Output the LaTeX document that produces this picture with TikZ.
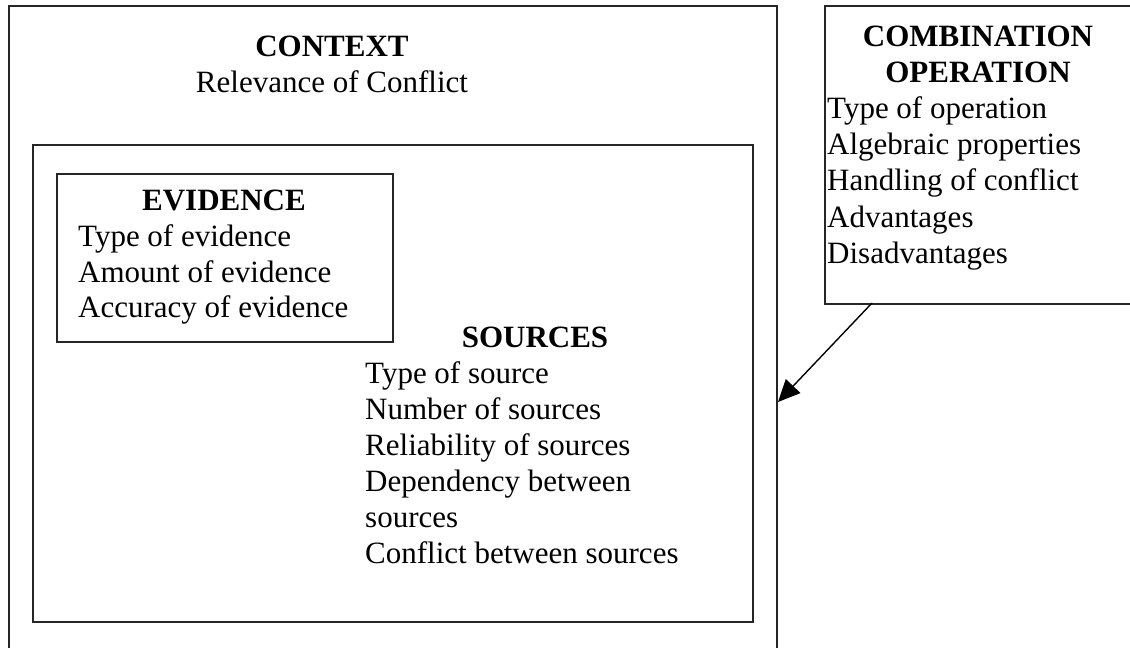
\documentclass[tikz,border=0pt]{standalone}
\usepackage{fontspec}
\setmainfont{Liberation Serif}
\usetikzlibrary{arrows.meta}
\tikzset{
  frame/.style={draw=black!85, line width=2pt, inner sep=0pt, anchor=north west},
  txt/.style={inner sep=0pt, anchor=base west, font=\fontsize{31}{36}\selectfont},
  hd/.style={inner sep=0pt, anchor=base, font=\fontsize{31}{36}\selectfont\bfseries},
  link/.style={draw=black, line width=1.4pt, -{Triangle[length=22pt,width=20pt]}}
}
\begin{document}
\begin{tikzpicture}[x=1pt,y=-1pt]
\useasboundingbox (0,0) rectangle (1130,648);
\begin{scope}
  \clip (0,0) rectangle (1130,648);
  % frames
  \node[frame, minimum width=768pt, minimum height=700pt] (context) at (8,5) {};
  \node[frame, minimum width=720pt, minimum height=477pt] (inner) at (32,144) {};
  \node[frame, minimum width=336pt, minimum height=168pt] (evidence) at (56,173) {};
  \node[frame, minimum width=330pt, minimum height=298pt] (comb) at (824,5) {};
\end{scope}

% context
\node[hd] (ctxhead) at (332,56) {CONTEXT};
\node[inner sep=0pt, anchor=base, font=\fontsize{31}{36}\selectfont] (ctxline) at (332,92) {Relevance of Conflict};

% evidence
\node[hd] (evhead) at (224,210) {EVIDENCE};
\node[txt] (ev1) at (78,246) {Type of evidence};
\node[txt] (ev2) at (78,282) {Amount of evidence};
\node[txt] (ev3) at (78,317) {Accuracy of evidence};

% sources
\node[hd] (srchead) at (535,347) {SOURCES};
\node[txt] (src1) at (365,383) {Type of source};
\node[txt] (src2) at (365,419) {Number of sources};
\node[txt] (src3) at (365,455) {Reliability of sources};
\node[txt] (src4) at (365,491) {Dependency between};
\node[txt] (src5) at (365,527) {sources};
\node[txt] (src6) at (365,563) {Conflict between sources};

% combination operation
\node[hd] (cbhead1) at (978,46) {COMBINATION};
\node[hd] (cbhead2) at (978,82) {OPERATION};
\node[txt] (cb1) at (827,118) {Type of operation};
\node[txt] (cb2) at (827,154) {Algebraic properties};
\node[txt] (cb3) at (827,190) {Handling of conflict};
\node[txt] (cb4) at (827,227) {Advantages};
\node[txt] (cb5) at (827,263) {Disadvantages};

% connector from the operation box to the context frame
\coordinate (from) at (872,303);
\coordinate (to) at (778,402);
\draw[link] (from) -- (to);
\end{tikzpicture}
\end{document}
